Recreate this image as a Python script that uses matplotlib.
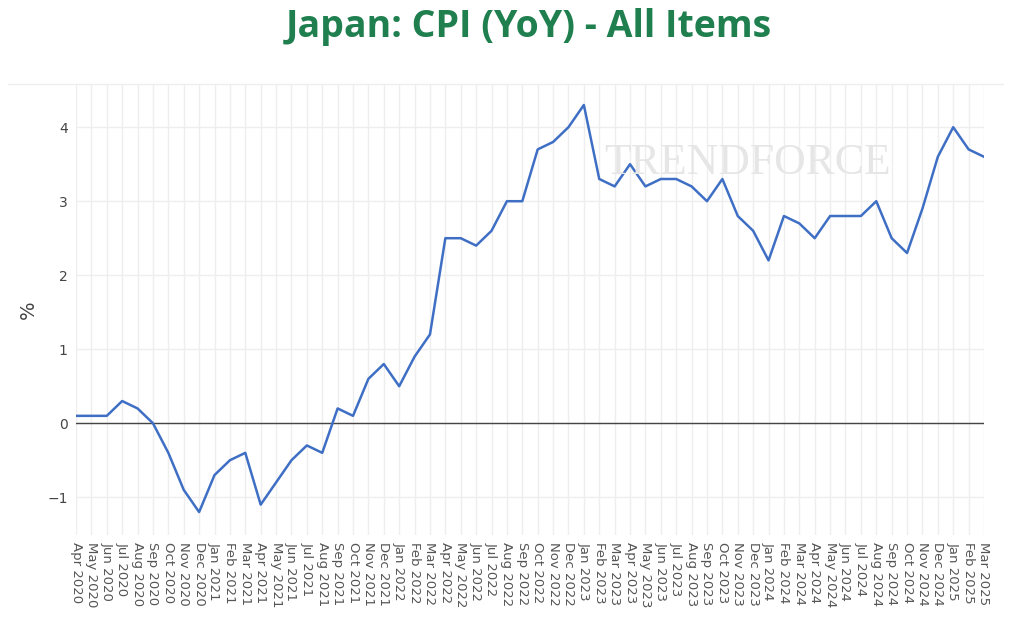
import matplotlib.pyplot as plt
import numpy as np

months = ['Apr 2020', 'May 2020', 'Jun 2020', 'Jul 2020', 'Aug 2020', 'Sep 2020', 'Oct 2020', 'Nov 2020', 'Dec 2020',
          'Jan 2021', 'Feb 2021', 'Mar 2021', 'Apr 2021', 'May 2021', 'Jun 2021', 'Jul 2021', 'Aug 2021', 'Sep 2021',
          'Oct 2021', 'Nov 2021', 'Dec 2021', 'Jan 2022', 'Feb 2022', 'Mar 2022', 'Apr 2022', 'May 2022', 'Jun 2022',
          'Jul 2022', 'Aug 2022', 'Sep 2022', 'Oct 2022', 'Nov 2022', 'Dec 2022', 'Jan 2023', 'Feb 2023', 'Mar 2023',
          'Apr 2023', 'May 2023', 'Jun 2023', 'Jul 2023', 'Aug 2023', 'Sep 2023', 'Oct 2023', 'Nov 2023', 'Dec 2023',
          'Jan 2024', 'Feb 2024', 'Mar 2024', 'Apr 2024', 'May 2024', 'Jun 2024', 'Jul 2024', 'Aug 2024', 'Sep 2024',
          'Oct 2024', 'Nov 2024', 'Dec 2024', 'Jan 2025', 'Feb 2025', 'Mar 2025']
cpi_yoy = [0.1, 0.1, 0.1, 0.3, 0.2, 0.0, -0.4, -0.9, -1.2,
           -0.7, -0.5, -0.4, -1.1, -0.8, -0.5, -0.3, -0.4, 0.2,
           0.1, 0.6, 0.8, 0.5, 0.9, 1.2, 2.5, 2.5, 2.4,
           2.6, 3.0, 3.0, 3.7, 3.8, 4.0, 4.3, 3.3, 3.2,
           3.5, 3.2, 3.3, 3.3, 3.2, 3.0, 3.3, 2.8, 2.6,
           2.2, 2.8, 2.7, 2.5, 2.8, 2.8, 2.8, 3.0, 2.5,
           2.3, 2.9, 3.6, 4.0, 3.7, 3.6]
y_ticks = [-1, 0, 1, 2, 3, 4]

W, H = 1011, 638
fig = plt.figure(figsize=(W / 100, H / 100), dpi=100)
ax = fig.add_axes([76 / W, (H - 535) / H, (984 - 76) / W, (535 - 85) / H])

x = np.arange(len(months))

# faint container line at the top
fig.add_artist(plt.Line2D([8 / W, 1003 / W], [(H - 84) / H] * 2, color='#eeeeee', lw=1))

ax.set_xlim(0, len(months) - 1)
ax.set_ylim(-1.51, 4.57)
ax.set_xticks(x)
ax.set_xticklabels(months, rotation=-90, fontsize=9.5, color='#555555', family='DejaVu Sans')
ax.set_yticks(y_ticks)
ax.set_yticklabels(['\u22121' if v == -1 else str(v) for v in y_ticks], fontsize=10, color='#444444')
ax.tick_params(length=0, pad=6)
ax.tick_params(axis='x', pad=5)
ax.grid(True, color='#eeeeee', lw=1)
ax.set_axisbelow(True)
for s in ax.spines.values():
    s.set_visible(False)

ax.axhline(0, color='#444444', lw=1, zorder=2)

# watermark
fig.text(0.598, 0.745, 'TRENDFORCE', family='Liberation Serif', fontsize=31.5, color='#e6e6e6',
         ha='left', va='center', zorder=0)
ax.plot(x, cpi_yoy, color='#3f6fc4', lw=1.8, zorder=3)

ax.set_ylabel('%', fontsize=14, color='#444444')
ax.yaxis.set_label_coords(-0.042, 0.5)
fig.text(0.523, (H - 37) / H, 'Japan: CPI (YoY) - All Items', ha='center', va='baseline',
         fontsize=27, fontweight='bold', color='#1f7f4f', family='Open Sans')

fig.savefig('out.png', dpi=100)
